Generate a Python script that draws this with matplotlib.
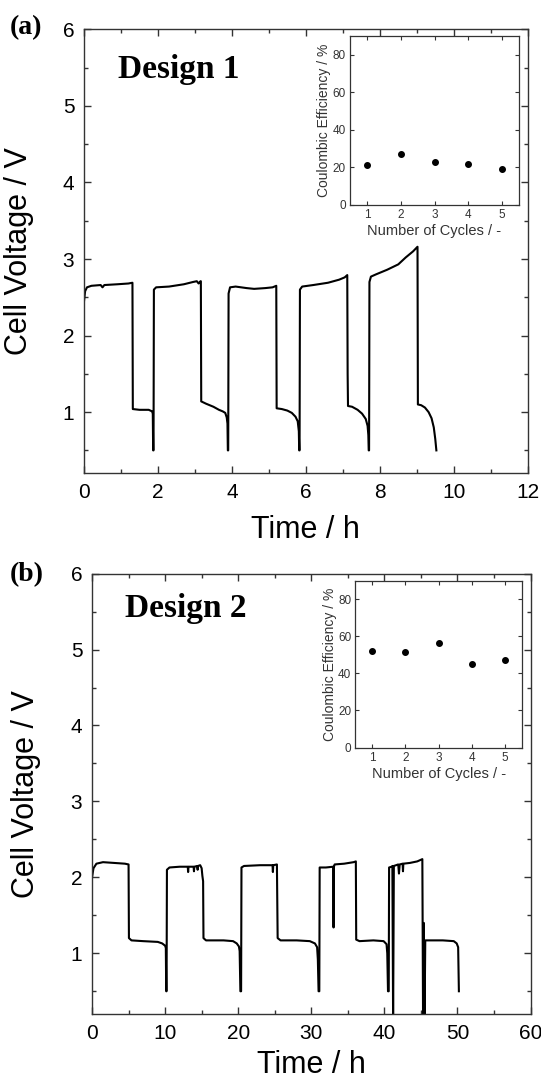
import matplotlib
matplotlib.use("Agg")
import matplotlib.pyplot as plt
from matplotlib.ticker import MultipleLocator

plt.rcParams['font.family'] = ['Liberation Sans', 'DejaVu Sans']

# ---- panel (a): Design 1, time (h) vs cell voltage (V)
t_a = [0.00, 0.03, 0.08, 0.20, 0.45, 0.50, 0.55, 0.90, 1.20, 1.31,
       1.32, 1.50, 1.75, 1.84, 1.86, 1.87,
       1.88, 1.89, 1.95, 2.30, 2.70, 2.95, 3.05, 3.10, 3.15, 3.16,
       3.17, 3.30, 3.50, 3.65, 3.75, 3.82, 3.86, 3.88, 3.89,
       3.90, 3.91, 3.95, 4.10, 4.40, 4.60, 4.90, 5.10, 5.20,
       5.21, 5.35, 5.50, 5.62, 5.72, 5.78, 5.81, 5.82,
       5.83, 5.84, 5.90, 6.20, 6.60, 6.90, 7.05, 7.12,
       7.13, 7.14, 7.25, 7.40, 7.52, 7.62, 7.67, 7.69, 7.70,
       7.71, 7.72, 7.76, 7.90, 8.20, 8.50, 8.70, 8.90, 9.02,
       9.03, 9.12, 9.22, 9.32, 9.40, 9.46, 9.50, 9.53]
v_a = [2.45, 2.58, 2.63, 2.65, 2.66, 2.63, 2.66, 2.67, 2.68, 2.69,
       1.04, 1.03, 1.03, 1.01, 0.98, 0.50,
       0.50, 2.60, 2.63, 2.64, 2.67, 2.70, 2.71, 2.68, 2.71, 2.71,
       1.14, 1.11, 1.07, 1.03, 1.01, 0.99, 0.93, 0.85, 0.50,
       0.50, 2.55, 2.63, 2.64, 2.62, 2.61, 2.62, 2.63, 2.65,
       1.05, 1.04, 1.02, 0.99, 0.94, 0.88, 0.75, 0.50,
       0.50, 2.60, 2.64, 2.66, 2.69, 2.73, 2.76, 2.79,
       1.50, 1.08, 1.07, 1.03, 0.98, 0.91, 0.82, 0.70, 0.50,
       0.50, 2.70, 2.77, 2.80, 2.86, 2.93, 3.02, 3.10, 3.16,
       1.10, 1.09, 1.06, 1.00, 0.92, 0.80, 0.65, 0.50]

# ---- panel (b): Design 2
t_b = [0.0, 0.2, 0.6, 1.5, 3.0, 4.5, 5.0,
       5.05, 5.4, 7.0, 9.0, 9.6, 10.0, 10.1, 10.15,
       10.2, 10.25, 10.6, 12.0, 13.1, 13.15, 13.2, 13.9, 13.95, 14.0, 14.4, 14.45,
       14.5, 14.8, 15.0, 15.1, 15.2,
       15.25, 15.6, 18.0, 19.3, 19.8, 20.1, 20.2, 20.3,
       20.4, 20.45, 20.8, 23.0, 24.7, 24.75, 24.8, 25.3,
       25.4, 25.8, 28.0, 29.8, 30.5, 30.8, 30.9, 31.0,
       31.1, 31.15, 32.0, 33.0, 33.05, 33.1, 33.2, 34.5, 35.8, 36.1,
       36.15, 36.6, 38.5, 39.9, 40.3, 40.4, 40.5,
       40.6, 40.65, 41.0, 41.1, 41.2, 41.3, 41.9, 42.0, 42.1, 42.5, 42.55, 42.6,
       43.5, 44.5, 45.2, 45.3, 45.4, 45.5,
       45.6, 46.0, 48.0, 49.5, 49.9, 50.1, 50.2]
v_b = [2.00, 2.12, 2.18, 2.20, 2.19, 2.18, 2.17,
       1.20, 1.17, 1.16, 1.15, 1.13, 1.10, 1.07, 0.50,
       0.50, 2.10, 2.13, 2.14, 2.14, 2.07, 2.14, 2.14, 2.08, 2.14, 2.15, 2.10,
       2.15, 2.16, 2.12, 2.02, 1.95,
       1.20, 1.17, 1.17, 1.16, 1.13, 1.09, 1.03, 0.50,
       0.50, 2.13, 2.15, 2.16, 2.16, 2.07, 2.16, 2.17,
       1.20, 1.17, 1.17, 1.16, 1.13, 1.08, 0.92, 0.50,
       0.50, 2.13, 2.13, 2.14, 1.34, 2.14, 2.17, 2.18, 2.20, 2.21,
       1.18, 1.16, 1.17, 1.16, 1.12, 1.00, 0.50,
       0.50, 2.13, 2.14, 2.15, 0.10, 2.15, 2.17, 2.05, 2.17, 2.18, 2.08, 2.18,
       2.19, 2.21, 2.24, 0.10, 1.40, 0.10,
       1.17, 1.17, 1.17, 1.16, 1.13, 1.08, 0.50]

# ---- insets: coulombic efficiency per cycle
cycles = [1, 2, 3, 4, 5]
ce_a = [21.5, 27.0, 23.0, 22.0, 19.0]
ce_b = [52.0, 51.5, 56.5, 45.0, 47.0]

spine_col = '#333333'


def style_main(ax, xmax, xmajor, xminor, ylab_x, xlab_y):
    ax.set_xlim(0, xmax)
    ax.set_ylim(0.2, 6)
    ax.xaxis.set_major_locator(MultipleLocator(xmajor))
    ax.xaxis.set_minor_locator(MultipleLocator(xminor))
    ax.yaxis.set_major_locator(MultipleLocator(1))
    ax.yaxis.set_minor_locator(MultipleLocator(0.5))
    ax.tick_params(which='both', direction='in', top=True, right=True,
                   color=spine_col, width=1.0)
    ax.tick_params(which='major', length=5, labelsize=15, pad=7)
    ax.tick_params(which='minor', length=3)
    for s in ax.spines.values():
        s.set_color(spine_col)
        s.set_linewidth(1.0)
    ax.set_xlabel('Time / h', fontsize=22)
    ax.set_ylabel('Cell Voltage / V', fontsize=22)
    ax.xaxis.set_label_coords(0.5, xlab_y)
    ax.yaxis.set_label_coords(ylab_x, 0.5)


def style_inset(ax):
    ax.set_xlim(0.5, 5.5)
    ax.set_ylim(0, 90)
    ax.set_xticks(cycles)
    ax.yaxis.set_major_locator(MultipleLocator(20))
    ax.tick_params(direction='in', top=True, right=True, length=3,
                   labelsize=8.5, pad=3, color=spine_col, labelcolor='#333333')
    for s in ax.spines.values():
        s.set_color(spine_col)
        s.set_linewidth(0.9)
    ax.set_xlabel('Number of Cycles / -', fontsize=10.5, color='#333333', labelpad=2)
    ax.set_ylabel('Coulombic Efficiency / %', fontsize=10, color='#333333', labelpad=1)


fig = plt.figure(figsize=(5.41, 10.79), dpi=100)

ax1 = fig.add_axes([0.1553, 0.5613, 0.8201, 0.4115])
ax1.plot(t_a, v_a, color='black', lw=1.5)
style_main(ax1, 12, 2, 1, -0.112, -0.093)

ax2 = fig.add_axes([0.1701, 0.0602, 0.8105, 0.4082])
ax2.plot(t_b, v_b, color='black', lw=1.5)
style_main(ax2, 60, 10, 5, -0.116, -0.081)

in1 = fig.add_axes([0.6470, 0.8102, 0.3124, 0.1562])
in1.plot(cycles, ce_a, 'o', color='black', ms=4)
style_inset(in1)

in2 = fig.add_axes([0.6569, 0.3071, 0.3076, 0.1549])
in2.plot(cycles, ce_b, 'o', color='black', ms=4)
style_inset(in2)

serif = ['Liberation Serif', 'DejaVu Serif']
fig.text(0.018, 0.974, '(a)', family=serif, fontweight='bold', fontsize=20, va='center')
fig.text(0.018, 0.467, '(b)', family=serif, fontweight='bold', fontsize=20, va='center')
fig.text(0.218, 0.936, 'Design 1', family=serif, fontweight='bold', fontsize=24, va='center')
fig.text(0.231, 0.436, 'Design 2', family=serif, fontweight='bold', fontsize=24, va='center')

fig.savefig('out.png', dpi=100)
